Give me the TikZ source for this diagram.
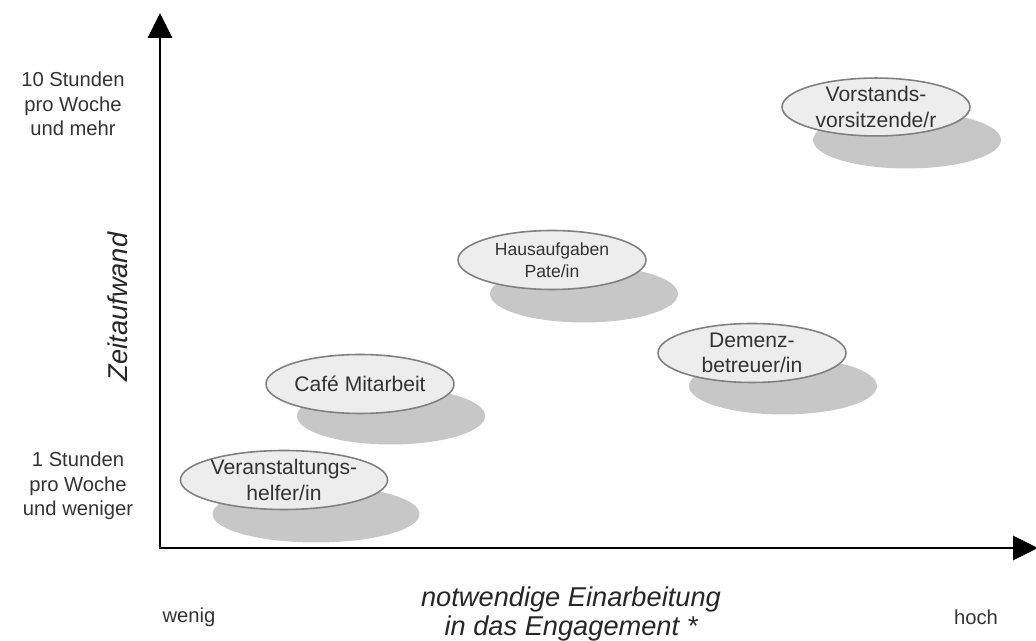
\documentclass[tikz,border=0pt]{standalone}
\usepackage{fontspec}
\setmainfont{Liberation Sans}
\usetikzlibrary{arrows.meta,shapes.geometric}

\begin{document}
\begin{tikzpicture}[x=0.02cm, y=-0.02cm,
    job_node/.style={ellipse, draw=black!50, fill=black!7, line width=0.9pt, minimum width=3.76cm, minimum height=1.18cm, inner sep=0pt, align=center, text=black!80, font=\fontsize{12}{14.5}\selectfont},
    shadow_node/.style={ellipse, fill=black!22, minimum width=3.76cm, minimum height=1.14cm, inner sep=0pt},
    side_node/.style={align=center, text=black!80, font=\fontsize{11.5}{14}\selectfont},
    axis_node/.style={align=center, text=black!85, font=\fontsize{15.5}{16}\selectfont\itshape}]
    \useasboundingbox (0,0) rectangle (1036,641);

    % shadows first
    \node[shadow_node, minimum width=4.14cm] (s1) at (316,514) {};
    \node[shadow_node] (s2) at (391,416) {};
    \node[shadow_node] (s3) at (584,294) {};
    \node[shadow_node] (s4) at (783,386) {};
    \node[shadow_node] (s5) at (907,140) {};

    \node[job_node, minimum width=4.12cm] (1) at (284,480) {Veranstaltungs-\\helfer/in};
    \node[job_node] (2) at (360,384) {Café Mitarbeit};
    \node[job_node, font=\fontsize{10}{12.5}\selectfont] (3) at (552,260) {Hausaufgaben\\Pate/in};
    \node[job_node] (4) at (752,353) {Demenz-\\betreuer/in};
    \node[job_node, minimum height=1.12cm] (5) at (876,107) {Vorstands-\\vorsitzende/r};

    % axes
    \coordinate (o) at (160,548);
    \coordinate (ytip) at (160,13);
    \coordinate (xtip) at (1038,548);
    \draw[line width=1.7pt, {Triangle[length=0.5cm,width=0.48cm]}-{Triangle[length=0.5cm,width=0.48cm]}] (ytip) -- (o) -- (xtip);

    \node[side_node] (top) at (73,104) {10 Stunden\\pro Woche\\und mehr};
    \node[side_node] (bottom) at (78,486) {1 Stunden\\pro Woche\\und weniger};
    \node[axis_node, rotate=90] (ylabel) at (118,307) {Zeitaufwand};
    \node[axis_node] (xlabel) at (571,614) {notwendige Einarbeitung\\in das Engagement *};
    \node[side_node] (low) at (189,617) {wenig};
    \node[side_node] (high) at (976,617) {hoch};
\end{tikzpicture}
\end{document}
